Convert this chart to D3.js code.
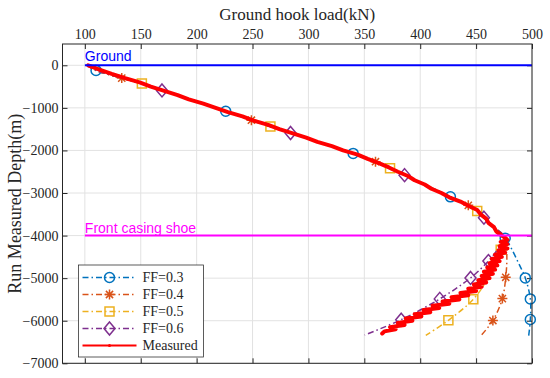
<!DOCTYPE html>
<html>
<head>
<meta charset="utf-8">
<script src="https://cdn.jsdelivr.net/npm/d3@7"></script>
<style>
body { margin: 0; background: #fff; }
</style>
</head>
<body>
<div id="main"></div>
<script>
const width = 550;
const height = 378;

const xTicks = [100, 150, 200, 250, 300, 350, 400, 450, 500];
const yTicks = [0, -1000, -2000, -3000, -4000, -5000, -6000, -7000];

// common part of the model curves (above the casing shoe)
const upperDepth = [0, -120, -300, -430, -590, -1080, -1290, -1440, -1590, -2070, -2265, -2420, -2580, -3090, -3290, -3420, -3580, -3800, -4060];
const upperLoad  = [102, 110, 133, 151, 169, 226, 249, 266, 284, 340, 360, 373, 386, 427, 443, 451, 457, 466, 476];

// lower parts, one per friction factor
const ff03Depth = [-4300, -4650, -4995, -5487, -5972, -6360];
const ff03Load  = [481.5, 488, 494, 498.5, 498.5, 497];
const ff04Depth = [-4500, -4980, -5480, -5995, -6345];
const ff04Load  = [477.5, 476.5, 473.5, 465, 454.5];
const ff05Depth = [-4333, -4700, -4990, -5495, -5990, -6345];
const ff05Load  = [472, 466.5, 461, 447.5, 425.2, 405];
const ff06Depth = [-4300, -4598, -4995, -5487, -5975, -6335];
const ff06Load  = [470, 461, 445, 417.5, 383, 350.3];

// marker positions
const ff03MarkDepth = [-120, -1080, -2070, -3090, -4060, -4995, -5487, -5972];
const ff03MarkLoad  = [110, 226, 340, 427, 476, 494, 498.5, 498.5];
const ff04MarkDepth = [-300, -1290, -2265, -3290, -4980, -5480, -5995];
const ff04MarkLoad  = [133, 249, 360, 443, 476.5, 473.5, 465];
const ff05MarkDepth = [-430, -1440, -2420, -3420, -4333, -5495, -5990];
const ff05MarkLoad  = [151, 266, 373, 451, 472, 447.5, 425.2];
const ff06MarkDepth = [-590, -1590, -2580, -3580, -4598, -4995, -5487, -5975];
const ff06MarkLoad  = [169, 284, 386, 457, 461, 445, 417.5, 383];

// measured hook load
const measDepth = [0, -100, -200, -300, -400, -500, -600, -700, -800, -900,
  -1000, -1100, -1200, -1300, -1400, -1500, -1600, -1700, -1800, -1900,
  -2000, -2100, -2200, -2300, -2400, -2500, -2600, -2700, -2800, -2900,
  -3000, -3100, -3200, -3300, -3400, -3500, -3600, -3700, -3800, -3900,
  -4000, -4050, -4100, -4150, -4200, -4250, -4300, -4350, -4400, -4450,
  -4500, -4550, -4600, -4650, -4700, -4750, -4800, -4850, -4900, -4950,
  -5000, -5050, -5100, -5150, -5200, -5250, -5300, -5350, -5400, -5450,
  -5500, -5550, -5600, -5650, -5700, -5750, -5800, -5850, -5900, -5950,
  -6000, -6050, -6100, -6150, -6200, -6250, -6300];
const measLoad = [103, 113, 124, 136, 149, 159, 171, 183, 193, 206,
  217, 228, 241, 251, 264, 274, 286, 298, 308, 321,
  331, 344, 353, 363, 372, 380, 389, 395, 404, 410,
  419, 426, 436, 443, 451, 454, 459, 461, 466, 468,
  473, 476, 478, 472, 478, 471, 478, 470, 476, 467,
  473, 464, 471, 462, 469, 460, 467, 457, 465, 455,
  462, 452, 459, 448, 455, 443, 450, 436, 443, 428,
  435, 420, 426, 411, 417, 403, 409, 395, 401, 387,
  393, 380, 386, 373, 378, 368, 366];

const series = [
  {name: "FF=0.3", color: "#0072BD", marker: "circle",  depth: ff03Depth, load: ff03Load, mDepth: ff03MarkDepth, mLoad: ff03MarkLoad},
  {name: "FF=0.4", color: "#D95319", marker: "star",    depth: ff04Depth, load: ff04Load, mDepth: ff04MarkDepth, mLoad: ff04MarkLoad},
  {name: "FF=0.5", color: "#EDB120", marker: "square",  depth: ff05Depth, load: ff05Load, mDepth: ff05MarkDepth, mLoad: ff05MarkLoad},
  {name: "FF=0.6", color: "#7E2F8E", marker: "diamond", depth: ff06Depth, load: ff06Load, mDepth: ff06MarkDepth, mLoad: ff06MarkLoad}
];

const markerPaths = {
  circle: "M5,0A5,5 0 1,1 -5,0A5,5 0 1,1 5,0Z",
  star: "M-5,0H5M0,-5V5M-3.6,-3.6L3.6,3.6M-3.6,3.6L3.6,-3.6",
  square: "M-4.5,-4.5H4.5V4.5H-4.5Z",
  diamond: "M0,-6.5L5.5,0L0,6.5L-5.5,0Z"
};

const x = d3.scaleLinear().domain([80, 500]).range([62.5, 532]);
const y = d3.scaleLinear().domain([500, -7000]).range([44, 363.3]);

const serif = "'Liberation Serif','Times New Roman',serif";
const sans = "'Liberation Sans',Arial,sans-serif";
const axisColor = "#262626";

const svg = d3.select("#main").append("svg")
  .attr("width", width)
  .attr("height", height)
  .style("display", "block");

// grid
svg.append("g").selectAll("line").data(xTicks).join("line")
  .attr("x1", d => x(d)).attr("x2", d => x(d))
  .attr("y1", y(500)).attr("y2", y(-7000))
  .attr("stroke", "#e2e2e2").attr("stroke-width", 1);
svg.append("g").selectAll("line").data(yTicks).join("line")
  .attr("x1", x(80)).attr("x2", x(500))
  .attr("y1", d => y(d)).attr("y2", d => y(d))
  .attr("stroke", "#e2e2e2").attr("stroke-width", 1);

// axes
const axTop = svg.append("g").attr("transform", `translate(0,${y(500)})`)
  .call(d3.axisTop(x).tickValues(xTicks).tickSizeInner(-5).tickSizeOuter(0).tickPadding(5));
const axBottom = svg.append("g").attr("transform", `translate(0,${y(-7000)})`)
  .call(d3.axisBottom(x).tickValues(xTicks).tickSizeInner(-5).tickSizeOuter(0).tickFormat(""));
const axLeft = svg.append("g").attr("transform", `translate(${x(80)},0)`)
  .call(d3.axisLeft(y).tickValues(yTicks).tickFormat(d3.format("d")).tickSizeInner(-5).tickSizeOuter(0).tickPadding(4));
const axRight = svg.append("g").attr("transform", `translate(${x(500)},0)`)
  .call(d3.axisRight(y).tickValues(yTicks).tickSizeInner(-5).tickSizeOuter(0).tickFormat(""));

[axTop, axBottom, axLeft, axRight].forEach(g => {
  g.select(".domain").remove();
  g.selectAll(".tick line").attr("stroke", axisColor);
  g.selectAll("text").attr("fill", axisColor).style("font-family", serif).style("font-size", "14px");
});

const line = d3.line().x(d => x(d[0])).y(d => y(d[1])).curve(d3.curveCatmullRom);

// model curves
series.forEach(s => {
  const pts = upperLoad.map((v, i) => [v, upperDepth[i]])
    .concat(s.load.map((v, i) => [v, s.depth[i]]));
  svg.append("path")
    .datum(pts)
    .attr("d", line)
    .attr("fill", "none")
    .attr("stroke", s.color)
    .attr("stroke-width", 1.5)
    .attr("stroke-dasharray", "6,3,1.5,3");
  svg.append("g").selectAll("path")
    .data(s.mLoad.map((v, i) => [v, s.mDepth[i]]))
    .join("path")
    .attr("transform", d => `translate(${x(d[0])},${y(d[1])})`)
    .attr("d", markerPaths[s.marker])
    .attr("fill", "none")
    .attr("stroke", s.color)
    .attr("stroke-width", 1.5);
});

// measured
const measPts = measLoad.map((v, i) => [v, measDepth[i]]);
svg.append("path")
  .datum(measPts)
  .attr("d", d3.line().x(d => x(d[0])).y(d => y(d[1])))
  .attr("fill", "none")
  .attr("stroke", "#ff0000")
  .attr("stroke-width", 4)
  .attr("stroke-linejoin", "round")
  .attr("stroke-linecap", "round");

// reference lines
svg.append("line")
  .attr("x1", x(100)).attr("x2", x(500))
  .attr("y1", y(0)).attr("y2", y(0))
  .attr("stroke", "#0000ff").attr("stroke-width", 2);
svg.append("text")
  .attr("x", x(100)).attr("y", y(0) - 4)
  .style("font-family", sans).style("font-size", "14px")
  .attr("fill", "#0000ff")
  .text("Ground");
svg.append("line")
  .attr("x1", x(100)).attr("x2", x(500))
  .attr("y1", y(-4000)).attr("y2", y(-4000))
  .attr("stroke", "#ff00ff").attr("stroke-width", 2);
svg.append("text")
  .attr("x", x(100)).attr("y", y(-4000) - 3)
  .style("font-family", sans).style("font-size", "14px")
  .attr("fill", "#ff00ff")
  .text("Front casing shoe");

// frame
svg.append("rect")
  .attr("x", x(80)).attr("y", y(500))
  .attr("width", x(500) - x(80)).attr("height", y(-7000) - y(500))
  .attr("fill", "none").attr("stroke", axisColor).attr("stroke-width", 1);

// axis titles
svg.append("text")
  .attr("x", (x(80) + x(500)) / 2).attr("y", 20)
  .attr("text-anchor", "middle")
  .style("font-family", serif).style("font-size", "17px")
  .attr("fill", axisColor)
  .text("Ground hook load(kN)");
svg.append("text")
  .attr("transform", `translate(21,${(y(500) + y(-7000)) / 2}) rotate(-90)`)
  .attr("text-anchor", "middle")
  .style("font-family", serif).style("font-size", "18px")
  .attr("fill", axisColor)
  .text("Run Measured Depth(m)");

// legend
const legendItems = series.concat([{name: "Measured", color: "#ff0000", marker: null}]);
const legend = svg.append("g").attr("transform", "translate(78.5,265)");
legend.append("rect")
  .attr("width", 125).attr("height", 92)
  .attr("fill", "#fff").attr("stroke", axisColor).attr("stroke-width", 0.75);
const item = legend.selectAll("g.item").data(legendItems).join("g")
  .attr("class", "item")
  .attr("transform", (d, i) => `translate(0,${12.5 + i * 17})`);
item.append("line")
  .attr("x1", 4).attr("x2", 58)
  .attr("stroke", d => d.color)
  .attr("stroke-width", d => d.marker ? 1.5 : 2)
  .attr("stroke-dasharray", d => d.marker ? "6,3,1.5,3" : null);
item.filter(d => d.marker).append("path")
  .attr("transform", "translate(31,0)")
  .attr("d", d => markerPaths[d.marker])
  .attr("fill", "none")
  .attr("stroke", d => d.color)
  .attr("stroke-width", 1.5);
item.filter(d => !d.marker).append("circle")
  .attr("cx", 31).attr("r", 1.5).attr("fill", "#ff0000");
item.append("text")
  .attr("x", 64).attr("dy", "0.35em")
  .style("font-family", serif).style("font-size", "14px")
  .attr("fill", axisColor)
  .text(d => d.name);
</script>
</body>
</html>
